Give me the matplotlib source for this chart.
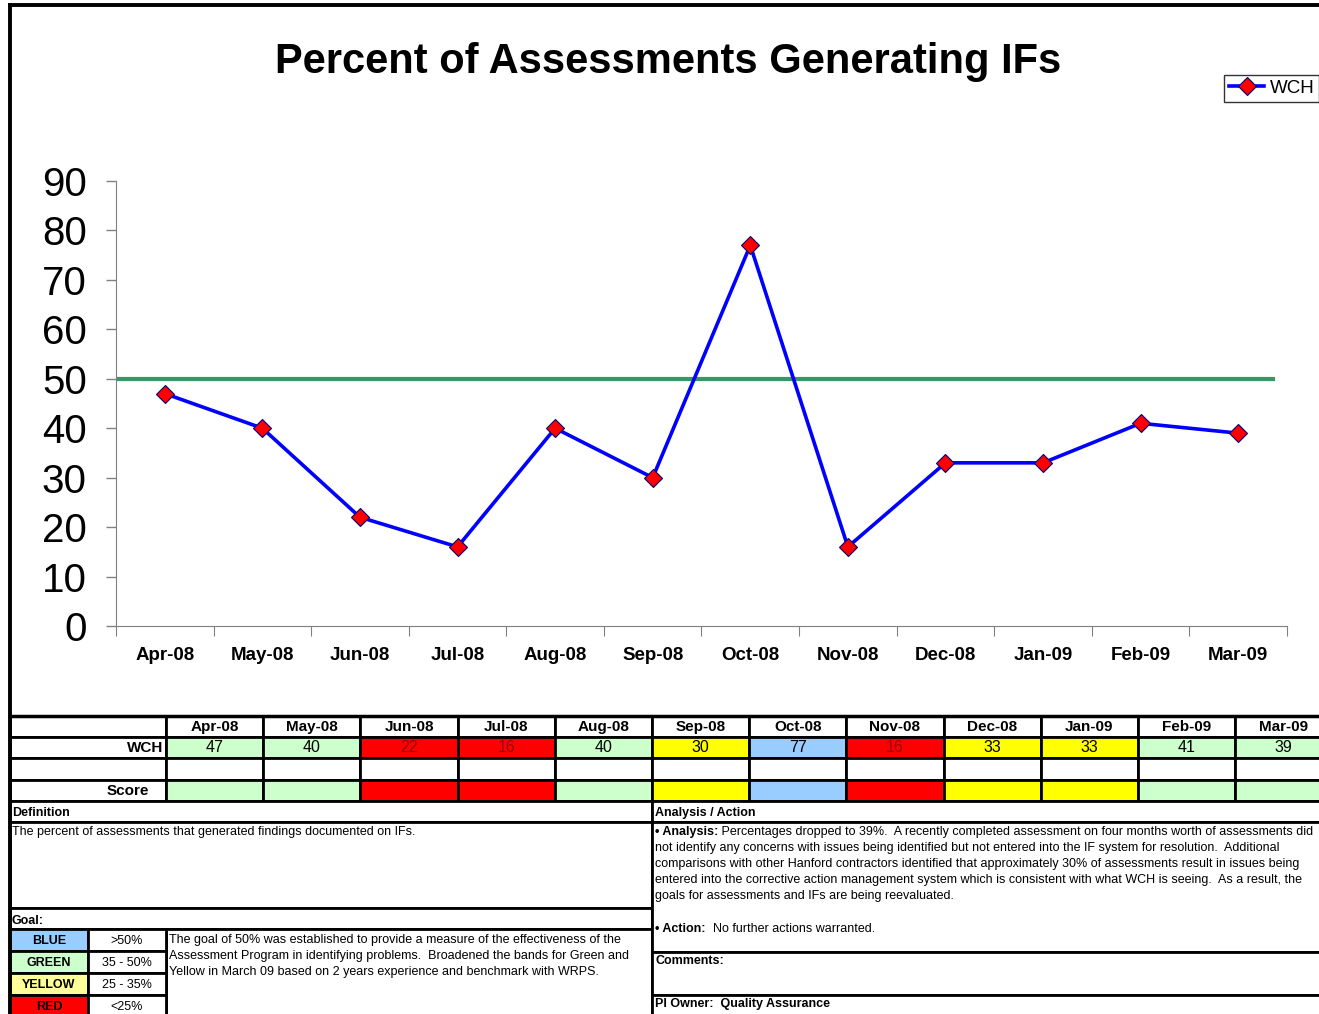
import numpy as np
from matplotlib import pyplot as plt
from matplotlib.patches import Rectangle

W, H = 1319, 1014

# %% Data
months = ['Apr-08', 'May-08', 'Jun-08', 'Jul-08', 'Aug-08', 'Sep-08',
          'Oct-08', 'Nov-08', 'Dec-08', 'Jan-09', 'Feb-09', 'Mar-09']
wch = [47, 40, 22, 16, 40, 30, 77, 16, 33, 33, 41, 39]
goal = 50

band_names = ['BLUE', 'GREEN', 'YELLOW', 'RED']
band_ranges = ['>50%', '35 - 50%', '25 - 35%', '<25%']
band_colors = ['#99CCFF', '#CCFFCC', '#FFFF99', '#FF0000']

definition = "The percent of assessments that generated findings documented on IFs."
goal_text = [
    "The goal of 50% was established to provide a measure of the effectiveness of the",
    "Assessment Program in identifying problems.  Broadened the bands for Green and",
    "Yellow in March 09 based on 2 years experience and benchmark with WRPS.",
]
analysis_lines = [
    "Percentages dropped to 39%.  A recently completed assessment on four months worth of assessments did",
    "not identify any concerns with issues being identified but not entered into the IF system for resolution.  Additional",
    "comparisons with other Hanford contractors identified that approximately 30% of assessments result in issues being",
    "entered into the corrective action management system which is consistent with what WCH is seeing.  As a result, the",
    "goals for assessments and IFs are being reevaluated.",
]
action_text = "No further actions warranted."


def score_color(v):
    if v > 50:
        return '#99CCFF'
    if v >= 35:
        return '#CCFFCC'
    if v >= 25:
        return '#FFFF00'
    return '#FF0000'


plt.rcParams['font.family'] = ['Liberation Sans', 'DejaVu Sans']

# %% Chart
fig = plt.figure(figsize=(W / 100, H / 100), dpi=100)
ax = fig.add_axes([116 / W, 1 - 626 / H, (1287 - 116) / W, (626 - 181) / H])
x = np.arange(len(months))
ax.plot(x, wch, color='#0000FF', lw=2.6, marker='D', ms=9,
        mfc='#FF0000', mec='#000080', mew=0.8, label='WCH', zorder=3)
ax.axhline(goal, xmax=0.988, color='#339966', lw=3, zorder=2)
ax.set_xlim(-0.5, 11.5)
ax.set_ylim(0, 90)
ax.set_yticks(np.arange(0, 91, 10))
ax.tick_params(axis='y', labelsize=29, length=7, width=1, color='#808080', pad=14)
ax.set_xticks(np.arange(-0.5, 12, 1))
ax.set_xticklabels([])
ax.set_xticks(x, minor=True)
ax.set_xticklabels(months, minor=True, fontweight='bold', fontsize=13.5)
ax.tick_params(axis='x', which='major', length=7, color='#808080')
ax.tick_params(axis='x', which='minor', length=0, pad=15)
for s in ['top', 'right']:
    ax.spines[s].set_visible(False)
for s in ['left', 'bottom']:
    ax.spines[s].set_color('#808080')

fig.text(668 / W, 1 - 62 / H, 'Percent of Assessments Generating IFs',
         ha='center', va='center', fontsize=30, fontweight='bold')

leg = ax.legend(loc='upper left', bbox_to_anchor=(1224 / W, 1 - 75 / H),
                bbox_transform=fig.transFigure, fontsize=13.5, fancybox=False,
                edgecolor='black', borderpad=0.25, handlelength=1.9,
                handletextpad=0.3, borderaxespad=0)
leg.get_frame().set_linewidth(1)

# %% Table overlay (pixel coordinates)
ov = fig.add_axes([0, 0, 1, 1], zorder=5)
ov.set_xlim(0, W)
ov.set_ylim(H, 0)
ov.axis('off')


def cell(x0, y0, x1, y1, fc='white', lw=2):
    ov.add_patch(Rectangle((x0, y0), x1 - x0, y1 - y0, fc=fc, ec='black', lw=lw))


col_x = [166 + 97.2 * i for i in range(13)]
row_y = [716, 737, 758, 780, 801]

# label column
for r in range(4):
    cell(10, row_y[r], 166, row_y[r + 1])
ov.text(163, 748, 'WCH', ha='right', va='center', fontsize=11, fontweight='bold')
ov.text(149, 791, 'Score', ha='right', va='center', fontsize=11, fontweight='bold')

for i, (m, v) in enumerate(zip(months, wch)):
    x0, x1 = col_x[i], col_x[i + 1]
    xc = (x0 + x1) / 2
    cell(x0, row_y[0], x1, row_y[1])
    ov.text(xc, 727, m, ha='center', va='center', fontsize=11, fontweight='bold')
    fc = score_color(v)
    cell(x0, row_y[1], x1, row_y[2], fc=fc)
    ov.text(xc, 748, str(v), ha='center', va='center', fontsize=11.5,
            color='#990000' if fc == '#FF0000' else 'black')
    cell(x0, row_y[2], x1, row_y[3])
    cell(x0, row_y[3], x1, row_y[4], fc=fc)

# bottom panels
cell(10, 801, 652, 822)
cell(10, 822, 652, 908)
cell(10, 908, 652, 929)
cell(166, 929, 652, 1030)
cell(652, 801, 1330, 822)
cell(652, 822, 1330, 952)
cell(652, 952, 1330, 995)
cell(652, 995, 1330, 1030)

fs = 9.0
ov.text(12, 813, 'Definition', ha='left', va='center', fontsize=fs, fontweight='bold')
ov.text(12, 832, definition, ha='left', va='center', fontsize=fs)
ov.text(12, 921, 'Goal:', ha='left', va='center', fontsize=fs, fontweight='bold')
for i, t in enumerate(goal_text):
    ov.text(169, 940 + 16 * i, t, ha='left', va='center', fontsize=fs)

band_y = [929, 951, 973, 995, 1030]
for i, (n, rng, c) in enumerate(zip(band_names, band_ranges, band_colors)):
    cell(10, band_y[i], 88, band_y[i + 1], fc=c)
    cell(88, band_y[i], 166, band_y[i + 1])
    yc = band_y[i] + 12
    ov.text(49, yc, n, ha='center', va='center', fontsize=fs, fontweight='bold')
    ov.text(127, yc, rng, ha='center', va='center', fontsize=fs)

ov.text(655, 813, 'Analysis / Action', ha='left', va='center', fontsize=fs, fontweight='bold')
renderer = fig.canvas.get_renderer()
b = ov.text(655, 832, '\u2022 Analysis:', ha='left', va='center', fontsize=fs, fontweight='bold')
bx = ov.transData.inverted().transform(b.get_window_extent(renderer))[1][0]
ov.text(bx, 832, ' ' + analysis_lines[0], ha='left', va='center', fontsize=fs)
for i, t in enumerate(analysis_lines[1:]):
    ov.text(655, 848 + 16 * i, t, ha='left', va='center', fontsize=fs)
b = ov.text(655, 929, '\u2022 Action:', ha='left', va='center', fontsize=fs, fontweight='bold')
bx = ov.transData.inverted().transform(b.get_window_extent(renderer))[1][0]
ov.text(bx, 929, '  ' + action_text, ha='left', va='center', fontsize=fs)
ov.text(655, 961, 'Comments:', ha='left', va='center', fontsize=fs, fontweight='bold')
ov.text(655, 1004, 'PI Owner:  Quality Assurance', ha='left', va='center', fontsize=fs, fontweight='bold')

# outer frame
ov.plot([10, 10], [5, 1014], color='black', lw=2.8, solid_capstyle='projecting')
ov.plot([10, 1319], [5, 5], color='black', lw=2.8, solid_capstyle='projecting')
ov.plot([10, 1319], [716, 716], color='black', lw=2.5)

fig.savefig('out.png', dpi=100)
